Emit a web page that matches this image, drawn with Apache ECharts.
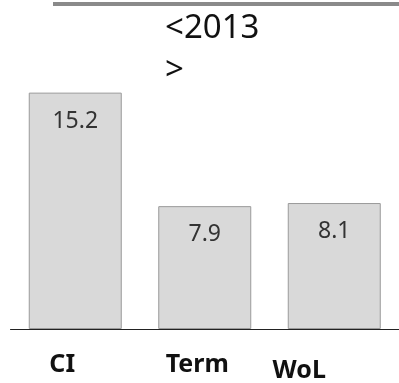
<!DOCTYPE html>
<html>
<head>
<meta charset="utf-8">
<script src="https://cdn.jsdelivr.net/npm/echarts@6/dist/echarts.min.js"></script>
<style>
  html, body { margin: 0; padding: 0; background: #fff; }
  #chart { width: 399px; height: 383px; }
</style>
</head>
<body>
<div id="chart"></div>
<script>
// data
var categories = ['CI', 'Term', 'WoL']
var values = [15.2, 7.9, 8.1]
var titleText = '<2013\n>'

var chart = echarts.init(document.getElementById('chart'))

// labels under the bars are not centred in the original, nudge them
var labelPad = [
  [0, 26, 0, 0],
  [0, 15, 0, 0],
  [6, 70, 0, 0]
]

chart.setOption({
  animation: false,
  title: {
    text: titleText,
    left: 160,
    top: 3,
    textStyle: {
      fontFamily: 'Noto Sans',
      fontSize: 33,
      fontWeight: 'normal',
      lineHeight: 42,
      color: '#111'
    }
  },
  graphic: [
    {
      // grey rule across the top
      type: 'rect',
      shape: { x: 53, y: 2, width: 346, height: 4 },
      style: { fill: '#8a8a8a' }
    }
  ],
  grid: {
    left: 10.5,
    right: -1.5,
    top: 18,
    bottom: 53
  },
  xAxis: {
    type: 'category',
    data: categories.map(function (c, i) {
      return { value: c, textStyle: { padding: labelPad[i] } }
    }),
    axisLine: { lineStyle: { color: '#222', width: 1 } },
    axisTick: { show: false },
    axisLabel: {
      margin: 23,
      fontFamily: 'Noto Sans',
      fontSize: 25,
      fontWeight: 'bold',
      color: '#111'
    }
  },
  yAxis: {
    type: 'value',
    min: 0,
    max: 20,
    show: false,
    splitLine: { show: false }
  },
  series: [
    {
      type: 'bar',
      data: values,
      barWidth: 93,
      itemStyle: {
        color: '#d9d9d9',
        borderColor: '#9a9a9a',
        borderWidth: 1
      },
      label: {
        show: true,
        position: 'insideTop',
        distance: 17,
        fontFamily: 'Noto Sans',
        fontSize: 23,
        color: '#333'
      }
    }
  ]
})
</script>
</body>
</html>
